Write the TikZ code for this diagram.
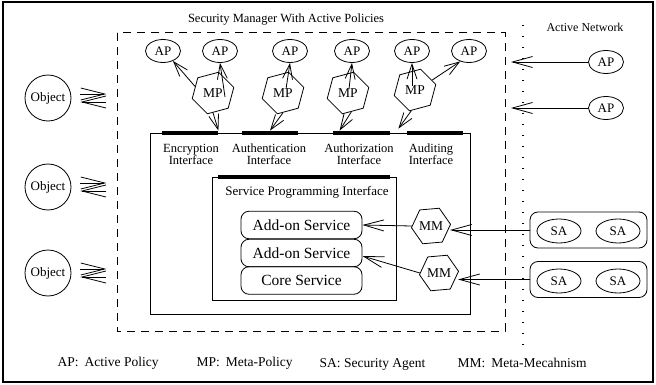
\documentclass[tikz,border=0pt]{standalone}
\usepackage{fontspec}
\setmainfont{Liberation Serif}
\usetikzlibrary{arrows.meta,shapes.geometric}
\newcommand{\fs}[1]{\fontsize{#1}{#1}\selectfont}
\begin{document}
\begin{tikzpicture}[x=1pt,y=-1pt,line width=0.8pt,
  arr/.style={-{Straight Barb[length=15pt,width=10pt,line width=0.8pt]}},
  longarr/.style={-{Straight Barb[length=20pt,width=11pt,line width=0.8pt]}},
  objarr/.style={-{Straight Barb[length=24pt,width=12pt,line width=0.8pt]}},
  ap/.style={ellipse,draw,minimum width=35pt,minimum height=23pt,inner sep=0pt,font=\fs{13}},
  obj/.style={circle,draw,minimum size=46pt,inner sep=0pt,font=\fs{13}},
  hex/.style={regular polygon,regular polygon sides=6,draw,minimum size=43pt,inner sep=0pt,font=\fs{13.5}},
  svc/.style={draw,rounded corners=8pt,minimum width=121pt,minimum height=27.5pt,inner sep=0pt,font=\fs{15.5}},
  sagrp/.style={draw,rounded corners=8pt,minimum width=117pt,minimum height=36pt,inner sep=0pt},
  sa/.style={ellipse,draw,minimum width=44pt,minimum height=24pt,inner sep=0pt,font=\fs{13}},
  ifbar/.style={fill=black,minimum height=4pt,inner sep=0pt},
  iflabel/.style={align=center,font=\fontsize{12.5}{12}\selectfont},
  legend/.style={anchor=west,font=\fs{13.5}}
]
\useasboundingbox (0,0) rectangle (656,385);
% outer frame
\draw[line width=1.2pt] (3,2) rectangle (653,382);

% titles
\node[font=\fs{12.5}] (title) at (286,20) {Security Manager With Active Policies};
\node[font=\fs{12}] (antitle) at (585,27) {Active Network};

% security manager boundary and active network divider
\draw[line width=1pt,dash pattern=on 8pt off 6pt] (117,33) rectangle (505,331);
\draw[line width=1.1pt,dash pattern=on 1pt off 10pt] (523,25) -- (523,348);

% security manager body
\draw (150,133) rectangle (470,314);
\node[ifbar,minimum width=56pt] (encbar) at (190,133) {};
\node[ifbar,minimum width=56pt] (authbar) at (270,133) {};
\node[ifbar,minimum width=57pt] (authzbar) at (361.5,133) {};
\node[ifbar,minimum width=56pt] (audbar) at (435,133) {};
\node[iflabel] (enclab) at (191,154) {Encryption\\Interface};
\node[iflabel] (authlab) at (269,154) {Authentication\\Interface};
\node[iflabel] (authzlab) at (359,154) {Authorization\\Interface};
\node[iflabel] (audlab) at (431,154) {Auditing\\Interface};

% service programming interface
\draw (212,177) rectangle (396,300);
\node[ifbar,minimum width=172pt] (spibar) at (304,177) {};
\node[font=\fs{13}] (spilab) at (307,192) {Service Programming Interface};
\node[svc] (add1) at (301.5,225) {Add-on Service};
\node[svc] (add2) at (301.5,253) {Add-on Service};
\node[svc] (core) at (301.5,280.5) {Core Service};

% active policies
\node[ap] (ap1) at (163,51) {AP};
\node[ap] (ap2) at (220,51) {AP};
\node[ap] (ap3) at (290,51) {AP};
\node[ap] (ap4) at (352,51) {AP};
\node[ap] (ap5) at (412,51) {AP};
\node[ap] (ap6) at (469,51) {AP};

% meta-policies
\node[hex,shape border rotate=15] (mp1) at (213,93) {MP};
\node[hex,shape border rotate=15] (mp2) at (283,93) {MP};
\node[hex,shape border rotate=15] (mp3) at (348,93) {MP};
\node[hex,shape border rotate=15] (mp4) at (415,90) {MP};

\draw[arr] (mp1.160) -- (ap1.-45);
\draw[arr] ([shift={(12,4)}]mp1.center) -- (ap2.south);
\draw[arr] (mp1.south) -- (encbar.north east);
\draw[arr] ([shift={(3,-4)}]mp2.center) -- (ap3.south);
\draw[arr] (mp2.south) -- (authbar.north);
\draw[arr] ([shift={(1,-4)}]mp3.center) -- (ap4.south);
\draw[arr] (mp3.-80) -- ([xshift=7pt]authzbar.north west);
\draw[arr] ([shift={(-3,-4)}]mp4.center) -- (ap5.south);
\draw[arr] (mp4.30) -- (ap6.-130);
\draw[arr] (mp4.-100) -- ([shift={(8,-2)}]authzbar.north east);

% objects
\node[obj] (ob1) at (48,98) {Object};
\node[obj] (ob2) at (48,187) {Object};
\node[obj] (ob3) at (48,273) {Object};
\foreach \o in {ob1,ob2,ob3}{
  \draw[objarr] ([shift={(9,-4)}]\o.east) -- ++(26,0);
  \draw[objarr] ([shift={(35,4)}]\o.east) -- ++(-26,0);
}

% active network policies
\node[ap] (apn1) at (606,62) {AP};
\node[ap] (apn2) at (606,108) {AP};
\coordinate (in1) at (511,62);
\coordinate (in2) at (511,108);
\draw[longarr] (apn1) -- (in1);
\draw[longarr] (apn2) -- (in2);

% security agents
\node[sagrp] (sag1) at (588.5,230) {};
\node[sagrp] (sag2) at (588.5,279.5) {};
\node[sa] (sa1) at (559,231) {SA};
\node[sa] (sa2) at (618,231) {SA};
\node[sa] (sa3) at (559,281) {SA};
\node[sa] (sa4) at (618,281) {SA};

% meta-mechanisms
\node[hex,minimum size=39pt,shape border rotate=5] (mm1) at (431,226) {MM};
\node[hex,minimum size=39pt,shape border rotate=5] (mm2) at (439,273) {MM};
\draw[longarr] (sag1.west) -- (sag1.west -| mm1.east);
\draw[longarr] (sag2.west) -- (sag2.west -| mm2.east);
\draw[longarr] (mm1.west) -- (add1.east);
\draw[longarr] (mm2.west) -- ([yshift=-3pt]add2.east);

% legend
\node[legend] (lg1) at (54,363) {AP:\hspace{6pt}Active Policy};
\node[legend] (lg2) at (193,363) {MP:\hspace{6pt}Meta-Policy};
\node[legend] (lg3) at (316,364) {SA: Security Agent};
\node[legend] (lg4) at (454,363) {MM:\hspace{6pt}Meta-Mecahnism};
\end{tikzpicture}
\end{document}
